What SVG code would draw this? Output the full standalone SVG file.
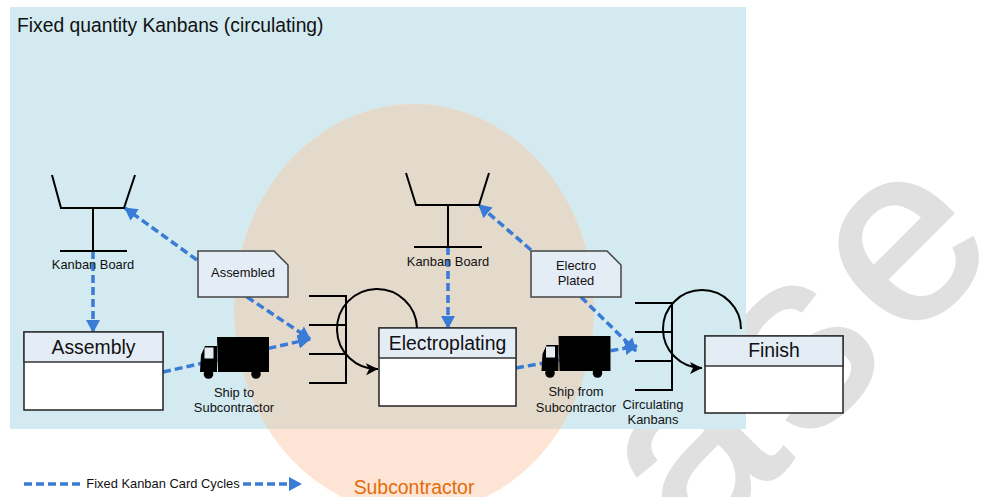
<svg xmlns="http://www.w3.org/2000/svg" width="985" height="497" viewBox="0 0 985 497">
<style>
text{font-family:"Liberation Sans",Arial,sans-serif;fill:#111}
.lbl{font-size:12.900px;text-anchor:middle}
.ttl{font-size:19.400px;text-anchor:middle}
.wm{font-size:250px;letter-spacing:16px;fill:#e0e0e0;stroke:#e0e0e0;stroke-width:4}
.blk{fill:none;stroke:#000;stroke-width:2}
.box{fill:#fff;stroke:#222;stroke-width:1.5}
.hdr{fill:#e4ecf6;stroke:#333;stroke-width:1.5}
.note{fill:#e4ecf6;stroke:#444;stroke-width:1.5}
.dash{fill:none;stroke:#3a7bd5;stroke-width:3.5;stroke-dasharray:8 4}
.trk{fill:#000}
</style>
<defs>
<marker id="ba" markerUnits="userSpaceOnUse" markerWidth="16" markerHeight="16" refX="12" refY="8" orient="auto"><path d="M0 1L13 8L0 15Z" fill="#3a7bd5"/></marker>
<marker id="ka" markerUnits="userSpaceOnUse" markerWidth="14" markerHeight="14" refX="12" refY="7" orient="auto"><path d="M0 1L12 7L0 13L3 7Z" fill="#000"/></marker>
<clipPath id="bg"><rect x="10" y="7" width="736" height="422"/></clipPath>
<symbol id="truck" overflow="visible"><path class="trk" d="M17 0H69V35H18ZM0 34L1 18L5 9H17V35H0Z"/><rect x="4.500" y="10.500" width="9" height="11" fill="#e4ecf0"/><circle cx="8.500" cy="37" r="4.800" class="trk"/><circle cx="56" cy="37" r="4.800" class="trk"/></symbol>
</defs>
<g id="watermark"><text class="wm" transform="translate(695.600 556.400) rotate(-45)">ase</text></g>
<g id="backdrop">
<rect x="10" y="7" width="736" height="422" fill="#d2eaf0"/>
<ellipse cx="414" cy="309" rx="180" ry="205" fill="#fde4d4"/>
<ellipse cx="414" cy="309" rx="180" ry="205" fill="#e3dacc" clip-path="url(#bg)"/>
</g>
<text x="17" y="32" style="font-size:19.300px">Fixed quantity Kanbans (circulating)</text>
<text x="414" y="494" class="ttl" style="fill:#e36c0a">Subcontractor</text>
<g id="connectors">
<path class="dash" d="M93 251V332" marker-end="url(#ba)"/>
<path class="dash" d="M197 260L125 208" marker-end="url(#ba)"/>
<path class="dash" d="M247 297L310 339" marker-end="url(#ba)"/>
<path class="dash" d="M163 372L310 339" marker-end="url(#ba)"/>
<path class="dash" d="M448 247V328" marker-end="url(#ba)"/>
<path class="dash" d="M531 250L479 205" marker-end="url(#ba)"/>
<path class="dash" d="M581 297L636 351" marker-end="url(#ba)"/>
<path class="dash" d="M516 368L637 346" marker-end="url(#ba)"/>
<path class="dash" d="M24 484H83"/>
<path class="dash" d="M243 484H301" marker-end="url(#ba)"/>
</g>
<g id="board1"><path class="blk" d="M52 175L61 208H124L135 175M93 208V251M60 251H127"/><text x="93" y="269" class="lbl">Kanban Board</text></g>
<g id="board2"><path class="blk" d="M406 173L416 205H479L489 173M448 205V247M414 247H482"/><text x="448" y="266" class="lbl">Kanban Board</text></g>
<g id="assembly"><rect class="box" x="24" y="332" width="139" height="78"/><rect class="hdr" x="24" y="332" width="139" height="30"/><text x="93.500" y="354" class="ttl">Assembly</text></g>
<g id="electroplating"><rect class="box" x="379" y="328" width="137" height="78"/><rect class="hdr" x="379" y="328" width="137" height="30"/><text x="447.500" y="350" class="ttl">Electroplating</text></g>
<g id="finish"><rect class="box" x="705" y="336" width="138" height="77"/><rect class="hdr" x="705" y="336" width="138" height="30"/><text x="774" y="357" class="ttl">Finish</text></g>
<g id="note-assembled"><path class="note" d="M198 251H274L288 265V297H198Z"/><text x="243" y="277" class="lbl">Assembled</text></g>
<g id="note-plated"><path class="note" d="M531 251H607L621 265V297H531Z"/><text x="576" y="270" class="lbl">Electro</text><text x="576" y="285" class="lbl">Plated</text></g>
<g id="truck1"><use href="#truck" x="200" y="337"/><text x="234" y="397" class="lbl">Ship to</text><text x="234" y="412" class="lbl">Subcontractor</text></g>
<g id="truck2"><use href="#truck" x="541.500" y="336"/><text x="576" y="396" class="lbl">Ship from</text><text x="576" y="412" class="lbl">Subcontractor</text></g>
<g id="queue1"><path class="blk" d="M309 296H346V383H309M309 325H346M309 354H346"/><path class="blk" d="M417 328A40 40 0 1 0 378 369" marker-end="url(#ka)"/></g>
<g id="queue2"><path class="blk" d="M635 303H672V390H635M635 332H672M635 361H672"/><path class="blk" d="M741 329A39 39 0 1 0 702 368" marker-end="url(#ka)"/><text x="653" y="409" class="lbl">Circulating</text><text x="653" y="424" class="lbl">Kanbans</text></g>
<text x="163" y="488" class="lbl">Fixed Kanban Card Cycles</text>
</svg>
